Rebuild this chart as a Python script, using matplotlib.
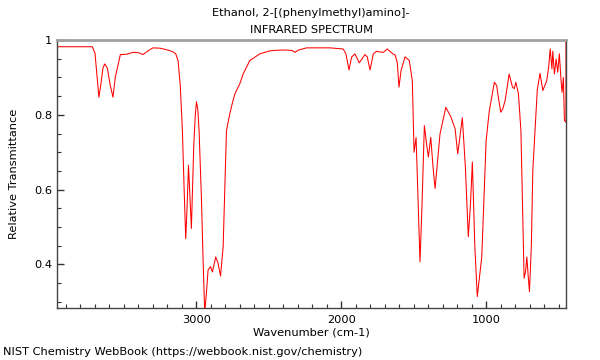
import matplotlib
matplotlib.use("Agg")
import matplotlib.pyplot as plt
from matplotlib.ticker import MultipleLocator

title_lines = ["Ethanol, 2-[(phenylmethyl)amino]-", "INFRARED SPECTRUM"]
x_label = "Wavenumber (cm-1)"
y_label = "Relative Transmittance"
footer = "NIST Chemistry WebBook (https://webbook.nist.gov/chemistry)"

wavenumber = [3962, 3718, 3700, 3685, 3673, 3660, 3645, 3633, 3615, 3595, 3576, 3560,
              3525, 3480, 3438, 3400, 3369, 3330, 3300, 3250, 3196, 3160, 3143, 3127,
              3112, 3097, 3085, 3074, 3065, 3055, 3045, 3035, 3019, 3008, 3000, 2991,
              2982, 2966, 2955, 2943, 2930, 2920, 2903, 2890, 2867, 2851, 2834, 2816,
              2805, 2793, 2770, 2750, 2735, 2701, 2678, 2632, 2563, 2494, 2425, 2378,
              2340, 2321, 2298, 2240, 2150, 2079, 1988, 1969, 1948, 1930, 1907, 1877,
              1838, 1822, 1803, 1780, 1757, 1734, 1711, 1684, 1646, 1630, 1615, 1603,
              1589, 1561, 1532, 1511, 1499, 1485, 1470, 1458, 1445, 1428, 1412, 1400,
              1384, 1368, 1354, 1320, 1280, 1246, 1216, 1198, 1166, 1145, 1125, 1110,
              1097, 1080, 1063, 1032, 1002, 980, 945, 929, 915, 901, 887, 871, 843, 820,
              808, 797, 779, 762, 740, 730, 721, 712, 703, 690, 680, 649, 630, 611, 584,
              570, 560, 548, 542, 531, 519, 508, 497, 485, 478, 469, 462, 451, 451]
transmittance = [0.982, 0.982, 0.965, 0.90, 0.847, 0.88, 0.925, 0.936, 0.925, 0.88, 0.847, 0.90,
                 0.961, 0.962, 0.967, 0.966, 0.961, 0.972, 0.979, 0.978, 0.973, 0.968, 0.963, 0.945,
                 0.88, 0.758, 0.60, 0.469, 0.55, 0.665, 0.58, 0.496, 0.714, 0.80, 0.835, 0.815,
                 0.758, 0.580, 0.42, 0.27, 0.33, 0.385, 0.394, 0.380, 0.420, 0.403, 0.369, 0.447,
                 0.60, 0.758, 0.803, 0.835, 0.856, 0.883, 0.909, 0.945, 0.963, 0.971, 0.973, 0.973,
                 0.972, 0.967, 0.973, 0.979, 0.979, 0.979, 0.976, 0.963, 0.92, 0.954, 0.963, 0.939,
                 0.961, 0.955, 0.92, 0.963, 0.97, 0.968, 0.967, 0.976, 0.963, 0.96, 0.94, 0.874,
                 0.918, 0.955, 0.945, 0.891, 0.70, 0.739, 0.55, 0.407, 0.55, 0.771, 0.72, 0.687,
                 0.74, 0.66, 0.603, 0.749, 0.82, 0.795, 0.763, 0.696, 0.792, 0.66, 0.474, 0.56,
                 0.674, 0.45, 0.314, 0.42, 0.731, 0.811, 0.887, 0.878, 0.84, 0.807, 0.816, 0.838, 0.909, 0.874,
                 0.87, 0.887, 0.856, 0.758, 0.363, 0.38, 0.42, 0.37, 0.327, 0.45, 0.651, 0.867, 0.911, 0.865, 0.891,
                 0.93, 0.976, 0.923, 0.97, 0.909, 0.949, 0.914, 0.963, 0.891, 0.86, 0.90, 0.785, 0.78, 1.0]

fs = 8.2
fig = plt.figure(figsize=(6, 3.6), dpi=100)
ax = fig.add_axes([57 / 600, 1 - 308 / 360, (566 - 57) / 600, (308 - 40) / 360])
ax.plot(wavenumber, transmittance, color="#ff0000", linewidth=0.75)
ax.set_xlim(3962, 451)
ax.set_ylim(0.2835, 1.0)

ax.xaxis.set_major_locator(MultipleLocator(1000))
ax.xaxis.set_minor_locator(MultipleLocator(100))
ax.yaxis.set_major_locator(MultipleLocator(0.2))
ax.yaxis.set_minor_locator(MultipleLocator(0.05))
ax.yaxis.set_major_formatter(matplotlib.ticker.FuncFormatter(lambda v, p: "1" if abs(v - 1) < 1e-9 else f"{v:.1f}"))

ax.tick_params(which="both", direction="in", top=False, right=False, labelsize=fs, colors="#333333", labelcolor="black")
ax.tick_params(which="major", length=5, width=1)
ax.tick_params(which="minor", length=3, width=0.8)
ax.tick_params(axis="x", which="major", pad=5)

for s in ["left", "bottom", "right"]:
    ax.spines[s].set_color("#444444")
    ax.spines[s].set_linewidth(1.0)
ax.spines["top"].set_color("#a0a0a0")
ax.spines["top"].set_linewidth(2.0)

ax.set_xlabel(x_label, fontsize=fs, labelpad=2)
ax.set_ylabel(y_label, fontsize=fs, labelpad=11)
fig.text(311 / 600, 1 - 13 / 360, title_lines[0], ha="center", va="center", fontsize=fs)
fig.text(311 / 600, 1 - 30 / 360, title_lines[1], ha="center", va="center", fontsize=fs)
fig.text(3 / 600, 1 - 352 / 360, footer, ha="left", va="center", fontsize=fs)

fig.savefig("out.png", dpi=100)
